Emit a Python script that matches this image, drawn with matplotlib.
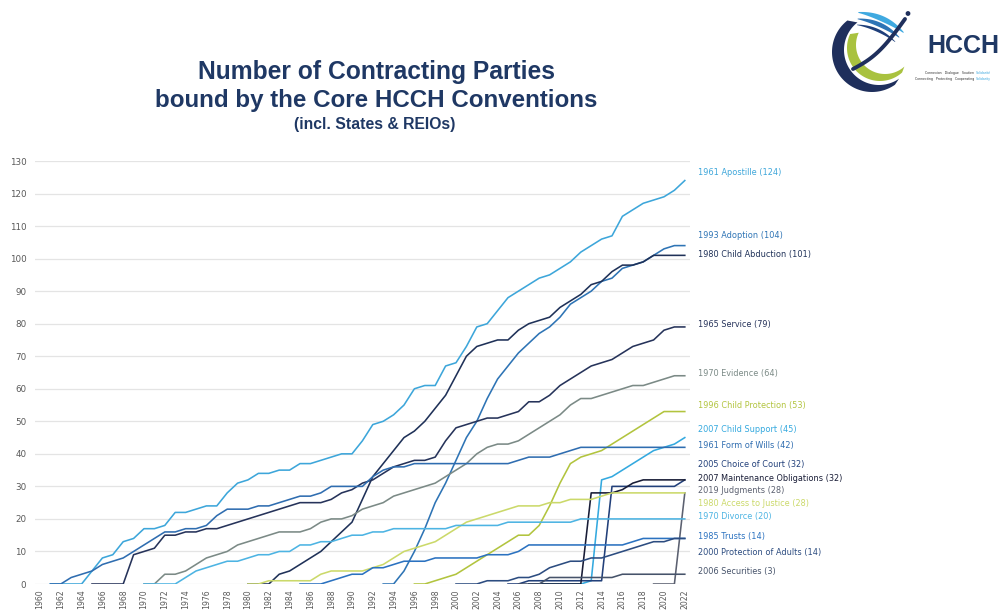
import numpy as np
import matplotlib
matplotlib.use("Agg")
import matplotlib.pyplot as plt
from matplotlib.patches import Polygon, Circle

# ---------------- data ----------------
series_names = [
    "1961 Apostille (124)", "1993 Adoption (104)", "1980 Child Abduction (101)",
    "1965 Service (79)", "1970 Evidence (64)", "1996 Child Protection (53)",
    "2007 Child Support (45)", "1961 Form of Wills (42)", "2005 Choice of Court (32)",
    "2007 Maintenance Obligations (32)", "2019 Judgments (28)",
    "1980 Access to Justice (28)", "1970 Divorce (20)", "1985 Trusts (14)",
    "2000 Protection of Adults (14)", "2006 Securities (3)",
]
start_years = [1961, 1993, 1980, 1965, 1970, 1996, 2007, 1961, 2005, 2007, 2019,
               1980, 1970, 1985, 2000, 2006]

apostille = [0, 0, 0, 0, 4, 8, 9, 13, 14, 17,
             17, 18, 22, 22, 23, 24, 24, 28, 31, 32,
             34, 34, 35, 35, 37, 37, 38, 39, 40, 40,
             44, 49, 50, 52, 55, 60, 61, 61, 67, 68,
             73, 79, 80, 84, 88, 90, 92, 94, 95, 97,
             99, 102, 104, 106, 107, 113, 115, 117, 118, 119,
             121, 124]
adoption = [0, 0, 4, 10, 17, 25, 31, 38,
            45, 50, 57, 63, 67, 71, 74, 77, 79, 82,
            86, 88, 90, 93, 94, 97, 98, 99, 101, 103,
            104, 104]
child_abduction = [0, 0, 0, 3, 4, 6, 8, 10, 13, 16, 19,
                   26, 33, 37, 41, 45, 47, 50, 54, 58, 64,
                   70, 73, 74, 75, 75, 78, 80, 81, 82, 85,
                   87, 89, 92, 93, 96, 98, 98, 99, 101, 101,
                   101, 101]
service = [0, 0, 0, 0, 9, 10,
           11, 15, 15, 16, 16, 17, 17, 18, 19, 20,
           21, 22, 23, 24, 25, 25, 25, 26, 28, 29,
           31, 32, 34, 36, 37, 38, 38, 39, 44, 48,
           49, 50, 51, 51, 52, 53, 56, 56, 58, 61,
           63, 65, 67, 68, 69, 71, 73, 74, 75, 78,
           79, 79]
evidence = [0, 0, 3, 3, 4, 6, 8, 9, 10, 12, 13,
            14, 15, 16, 16, 16, 17, 19, 20, 20, 21,
            23, 24, 25, 27, 28, 29, 30, 31, 33, 35,
            37, 40, 42, 43, 43, 44, 46, 48, 50, 52,
            55, 57, 57, 58, 59, 60, 61, 61, 62, 63,
            64, 64]
child_protection = [0, 0, 1, 2, 3,
                    5, 7, 9, 11, 13, 15, 15, 18, 24, 31,
                    37, 39, 40, 41, 43, 45, 47, 49, 51, 53,
                    53, 53]
child_support = [0, 0, 0, 0,
                 0, 0, 1, 32, 33, 35, 37, 39, 41, 42,
                 43, 45]
form_of_wills = [0, 0, 2, 3, 4, 6, 7, 8, 10, 12,
                 14, 16, 16, 17, 17, 18, 21, 23, 23, 23,
                 24, 24, 25, 26, 27, 27, 28, 30, 30, 30,
                 30, 33, 35, 36, 36, 37, 37, 37, 37, 37,
                 37, 37, 37, 37, 37, 38, 39, 39, 39, 40,
                 41, 42, 42, 42, 42, 42, 42, 42, 42, 42,
                 42, 42]
choice_of_court = [0, 0, 1, 1, 1, 1,
                   1, 1, 1, 1, 30, 30, 30, 30, 30, 30,
                   30, 32]
maintenance = [0, 0, 0, 0,
               0, 0, 28, 28, 28, 29, 31, 32, 32, 32,
               32, 32]
judgments = [0, 0, 0, 28]
access_to_justice = [0, 0, 1, 1, 1, 1, 1, 3, 4, 4, 4,
                     4, 5, 6, 8, 10, 11, 12, 13, 15, 17,
                     19, 20, 21, 22, 23, 24, 24, 24, 25, 25,
                     26, 26, 26, 27, 28, 28, 28, 28, 28, 28,
                     28, 28]
divorce = [0, 0, 0, 0, 2, 4, 5, 6, 7, 7, 8,
           9, 9, 10, 10, 12, 12, 13, 13, 14, 15,
           15, 16, 16, 17, 17, 17, 17, 17, 17, 18,
           18, 18, 18, 18, 19, 19, 19, 19, 19, 19,
           19, 20, 20, 20, 20, 20, 20, 20, 20, 20,
           20, 20]
trusts = [0, 0, 0, 1, 2, 3,
          3, 5, 5, 6, 7, 7, 7, 8, 8, 8,
          8, 8, 9, 9, 9, 10, 12, 12, 12, 12,
          12, 12, 12, 12, 12, 12, 13, 14, 14, 14,
          14, 14]
adults = [0, 0, 0, 1, 1, 1, 2, 2, 3, 5, 6,
          7, 7, 8, 8, 9, 10, 11, 12, 13, 13,
          14, 14]
securities = [0, 0, 0, 2, 2,
              2, 2, 2, 2, 2, 3, 3, 3, 3, 3,
              3, 3]

series_values = [apostille, adoption, child_abduction, service, evidence,
                 child_protection, child_support, form_of_wills, choice_of_court,
                 maintenance, judgments, access_to_justice, divorce, trusts,
                 adults, securities]

# label layout (vertical placement of the end labels, in axis units)
label_y = [126.4, 107.0, 101.2, 79.8, 64.7, 54.9, 47.5, 42.6, 36.8, 32.5,
           28.8, 24.8, 20.6, 14.7, 9.8, 3.7]

colors = ["#3DA6DA", "#2E74B5", "#1F3158", "#26335A", "#7B8A86", "#B2C43E",
          "#34A9DF", "#2F6DB0", "#22407A", "#181C36", "#5B6070", "#CBD96A",
          "#4DB4E3", "#2B72C0", "#2C4C80", "#46536A"]

x_ticks = list(range(1960, 2023, 2))
y_ticks = list(range(0, 131, 10))

tagline_rows = [("Connexion   Dialogue   Soutien", "Solidarité"),
                ("Connecting   Protecting   Cooperating", "Solidarity")]

# ---------------- figure ----------------
W, H = 999, 612
fig = plt.figure(figsize=(W / 100, H / 100), dpi=100)
fig.patch.set_facecolor("white")

ax_l, ax_r, ax_t, ax_b = 34.8, 690.0, 161.0, 584.0
ax = fig.add_axes([ax_l / W, 1 - ax_b / H, (ax_r - ax_l) / W, (ax_b - ax_t) / H])
ax.set_xlim(1959.5, 2022.5)
ax.set_ylim(0, 130)
for s in ax.spines.values():
    s.set_visible(False)
ax.set_yticks(y_ticks)
ax.set_yticklabels([str(v) for v in y_ticks], fontsize=6.3, color="#595959",
                   family="DejaVu Sans")
ax.set_xticks(x_ticks)
ax.set_xticklabels([str(v) for v in x_ticks], rotation=90, fontsize=5.6,
                   color="#595959", family="DejaVu Sans")
ax.tick_params(axis="both", length=0)
ax.tick_params(axis="y", pad=6)
ax.tick_params(axis="x", pad=4)
ax.yaxis.grid(True, color="#E4E4E4", lw=0.9)
ax.set_axisbelow(True)

for name, start, vals, col, ly in zip(series_names, start_years, series_values,
                                      colors, label_y):
    yrs = np.arange(start, start + len(vals))
    ax.plot(yrs, vals, color=col, lw=1.15, solid_joinstyle="round", zorder=3)
    ax.annotate(name, xy=(yrs[-1], ly), xytext=(9.5, 0), textcoords="offset points",
                va="center", ha="left", fontsize=5.85, color=col,
                family="DejaVu Sans", annotation_clip=False)

# ---------------- titles ----------------
navy = "#1F3864"
renderer = fig.canvas.get_renderer()

def fitted_text(x, y, s, width_px, size0, **kw):
    t = fig.text(x / W, 1 - y / H, s, ha="center", va="center", fontsize=size0, **kw)
    w = t.get_window_extent(renderer=renderer).width
    t.set_fontsize(size0 * width_px / w)
    return t

fitted_text(377, 72, "Number of Contracting Parties", 358, 14,
            fontweight="bold", color=navy, family="Liberation Sans")
fitted_text(376, 101, "bound by the Core HCCH Conventions", 442, 14,
            fontweight="bold", color=navy, family="Liberation Sans")
fitted_text(375, 125, "(incl. States & REIOs)", 162, 9,
            fontweight="bold", color=navy, family="Liberation Sans")

# ---------------- logo ----------------
lg = fig.add_axes([826 / W, 1 - 100 / H, 173 / W, 94 / H])
lg.set_xlim(826, 999)
lg.set_ylim(100, 6)
lg.axis("off")

def crescent(c1, r1, c2, r2, a0, a1, n=80):
    t = np.radians(np.linspace(a0, a1, n))
    outer = np.c_[c1[0] + r1 * np.cos(t), c1[1] + r1 * np.sin(t)]
    inner = np.c_[c2[0] + r2 * np.cos(t[::-1]), c2[1] + r2 * np.sin(t[::-1])]
    return np.vstack([outer, inner])

# dark navy outer crescent
lg.add_patch(Polygon(crescent((872, 52), 40, (879, 50), 35, 55, 232), closed=True,
                     color="#1F2F5C", lw=0))
# yellow-green inner crescent
lg.add_patch(Polygon(crescent((880, 48), 33, (885, 45), 29, 48, 205), closed=True,
                     color="#A9C23F", lw=0))
# blue bands at the top (gentle sweep from upper left toward the right)
for (r, col, w_in) in [(80, "#3FA9E0", 5.5), (73.5, "#2E74B5", 4.5), (67.5, "#1F3F7A", 3.0)]:
    t = np.radians(np.linspace(-84, -48, 60))
    taper = np.sin(np.linspace(0.15, np.pi - 0.15, 60))
    ro = r + w_in * taper / 2
    ri = r - w_in * taper / 2
    pts = np.vstack([np.c_[850 + ro * np.cos(t), 92 + ro * np.sin(t)],
                     np.c_[850 + ri[::-1] * np.cos(t[::-1]), 92 + ri[::-1] * np.sin(t[::-1])]])
    lg.add_patch(Polygon(pts, closed=True, color=col, lw=0))
# diagonal navy swoosh
t = np.linspace(0, 1, 40)
sx = 853 + 52 * t
sy = 69 - 50 * t + 7 * np.sin(np.pi * t)
lg.plot(sx, sy, color="#1F2F5C", lw=2.8, solid_capstyle="round")
lg.add_patch(Circle((908, 13.5), 1.7, color="#1F2F5C"))
lg.text(963, 46, "HCCH", ha="center", va="center", fontsize=18, fontweight="bold",
        color="#1F3864", family="Liberation Sans")
for (dark_part, blue_part), yy in zip(tagline_rows, [73, 79]):
    lg.text(975, yy, dark_part + " ", ha="right", va="center", fontsize=2.3,
            color="#333333", family="DejaVu Sans")
    lg.text(976, yy, blue_part, ha="left", va="center", fontsize=2.3,
            color="#3FA9E0", family="DejaVu Sans")

fig.savefig("out.png", dpi=100, facecolor="white")
